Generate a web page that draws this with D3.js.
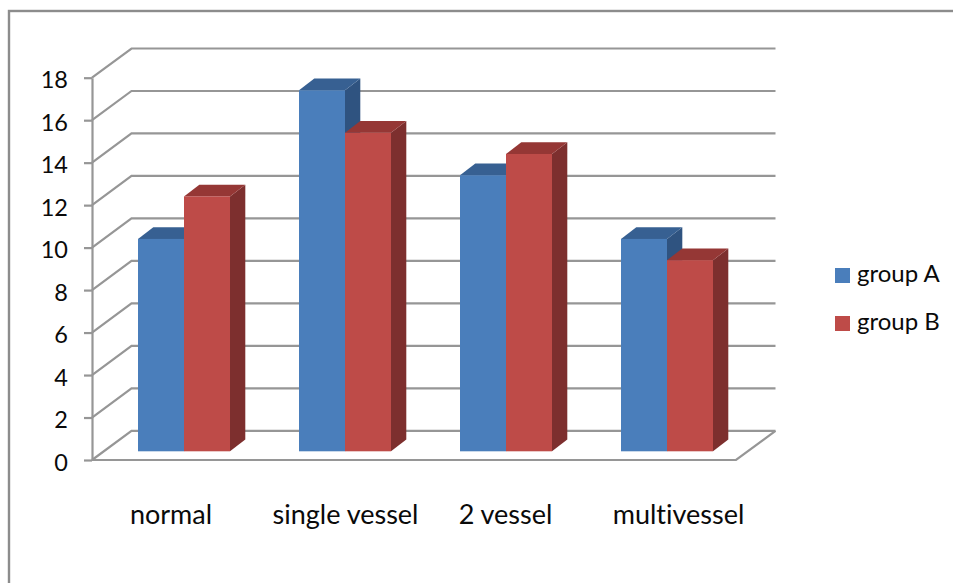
<!DOCTYPE html>
<html>
<head>
<meta charset="utf-8">
<script src="https://cdn.jsdelivr.net/npm/d3@7"></script>
<style>
  html, body { margin: 0; padding: 0; background: #fff; overflow: hidden; }
  svg { display: block; }
  text { font-family: Lato, "Open Sans", sans-serif; fill: #0a0a0a; font-variant-ligatures: none; }
</style>
</head>
<body>
<svg id="chart" width="953" height="583"></svg>
<script>
const categories = ["normal", "single vessel", "2 vessel", "multivessel"];
const groupNames = ["group A", "group B"];
const groupA = [10, 17, 13, 10];
const groupB = [12, 15, 14, 9];
const yTicks = [0, 2, 4, 6, 8, 10, 12, 14, 16, 18];

const frontColors = { "group A": "#4a7ebb", "group B": "#be4b48" };
const topColors = { "group A": "#376092", "group B": "#953735" };
const sideColors = { "group A": "#2f5380", "group B": "#7d2f2e" };
const gridColor = "#969696";

const svg = d3.select("#chart");

// Front plane of the oblique box and the offset to its back wall.
const plotLeft = 92, plotRight = 736, plotBottom = 460, plotTop = 77.7;
const depthX = 39.5, depthY = 29.2;
const barDepthX = 15.3, barDepthY = 11.7;
const barInsetY = 8.7;

const y = d3.scaleLinear().domain([0, 18]).range([plotBottom, plotTop]);
const x0 = d3.scaleBand().domain(categories).range([plotLeft + 11.5, plotRight + 11.5]);
const x1 = d3.scaleBand().domain(groupNames).range([0, 92]);
const groupOffset = (x0.bandwidth() - x1.range()[1]) / 2;

// Frame around the whole figure.
svg.append("rect")
  .attr("x", 9).attr("y", 11)
  .attr("width", 960).attr("height", 600)
  .attr("fill", "none").attr("stroke", "#8c8c8c").attr("stroke-width", 2.4);

// Back wall gridlines with the side wall diagonals.
const walls = svg.append("g")
  .attr("fill", "none").attr("stroke", gridColor).attr("stroke-width", 2.2);
walls.selectAll("path.grid").data(yTicks).join("path")
  .attr("class", "grid")
  .attr("d", t => {
    const v = y(t);
    return `M${plotLeft},${v}L${plotLeft + depthX},${v - depthY}L${plotRight + depthX},${v - depthY}`;
  });

// Floor front and right edges.
walls.append("path")
  .attr("d", `M${plotLeft},${plotBottom}L${plotRight},${plotBottom}L${plotRight + depthX},${plotBottom - depthY}`);

// Value axis with tick stubs, which sit in front of the walls.
const axis = d3.axisLeft(y).tickValues(yTicks).tickSize(8).tickSizeOuter(0).tickPadding(16);
const axisG = svg.append("g").attr("transform", `translate(${plotLeft},0)`).call(axis);
axisG.select(".domain").attr("stroke", gridColor).attr("stroke-width", 2.2);
axisG.selectAll(".tick line").attr("stroke", gridColor).attr("stroke-width", 2.2);
axisG.selectAll(".tick text")
  .attr("font-size", 23.5)
  .attr("y", 2.5)
  .style("font-family", "Lato, 'Open Sans', sans-serif")
  .attr("fill", "#0a0a0a");

// Bars: side and top faces first, then the front, group by group.
const rows = categories.flatMap((c, i) => [
  { category: c, group: groupNames[0], value: groupA[i] },
  { category: c, group: groupNames[1], value: groupB[i] }
]);

const bars = svg.append("g").selectAll("g").data(rows).join("g");
const barX = d => x0(d.category) + groupOffset + x1(d.group);
const barTop = d => y(d.value) - barInsetY;
const barBottom = y(0) - barInsetY;
const w = x1.bandwidth();

bars.append("path")
  .attr("fill", d => sideColors[d.group])
  .attr("d", d => {
    const r = barX(d) + w;
    return `M${r},${barTop(d)}L${r + barDepthX},${barTop(d) - barDepthY}L${r + barDepthX},${barBottom - barDepthY}L${r},${barBottom}Z`;
  });
bars.append("path")
  .attr("fill", d => topColors[d.group])
  .attr("d", d => {
    const l = barX(d), t = barTop(d);
    return `M${l},${t}L${l + barDepthX},${t - barDepthY}L${l + w + barDepthX},${t - barDepthY}L${l + w},${t}Z`;
  });
bars.append("rect")
  .attr("fill", d => frontColors[d.group])
  .attr("x", barX).attr("y", barTop)
  .attr("width", w).attr("height", d => barBottom - barTop(d));

// Category labels below the floor.
svg.append("g").selectAll("text").data(categories).join("text")
  .attr("x", (c, i) => [171, 345.5, 505.5, 678.5][i])
  .attr("y", 524)
  .attr("text-anchor", "middle")
  .attr("font-size", 27)
  .text(d => d);

// Legend.
const legend = svg.append("g").selectAll("g").data(groupNames).join("g")
  .attr("transform", (d, i) => `translate(835,${268 + i * 48})`);
legend.append("rect")
  .attr("width", 15).attr("height", 15)
  .attr("fill", d => frontColors[d]);
legend.append("text")
  .attr("x", 22).attr("y", 14)
  .attr("font-size", 24)
  .text(d => d);
</script>
</body>
</html>
